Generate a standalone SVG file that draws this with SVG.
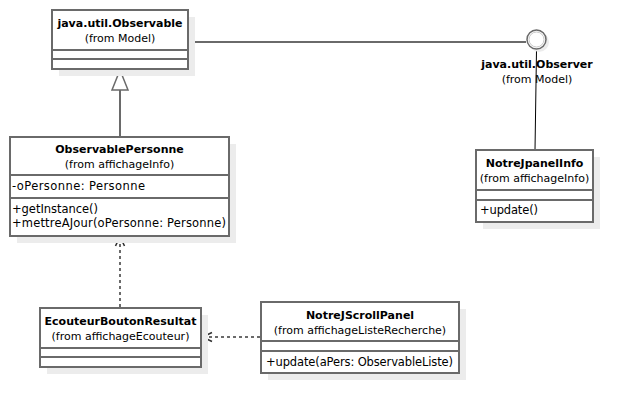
<svg xmlns="http://www.w3.org/2000/svg" width="638" height="413" viewBox="0 0 638 413">
<style>
  .shadow { fill: #ececec; stroke: none; }
  .box { fill: #ffffff; stroke: #6a6a6a; stroke-width: 2; }
  .div { stroke: #6a6a6a; stroke-width: 2; fill: none; }
  .name { font-family: "DejaVu Sans", sans-serif; font-size: 11px; font-weight: bold; fill: #000; text-anchor: middle; }
  .from { font-family: "DejaVu Sans", sans-serif; font-size: 11px; fill: #000; text-anchor: middle; }
  .member { font-family: "DejaVu Sans", sans-serif; font-size: 11.5px; fill: #000; }
  .line { stroke: #6a6a6a; stroke-width: 2; fill: none; }
  .head { stroke: #333333; stroke-width: 1.6; fill: none; stroke-linejoin: miter; }
  .dash { stroke: #6a6a6a; stroke-width: 2; fill: none; stroke-dasharray: 3 3; }
  .thin { stroke: #000; stroke-width: 1; fill: none; }
</style>
<rect width="638" height="413" fill="#ffffff"/>

<g id="connectors">
  <line class="line" x1="188" y1="42" x2="526" y2="42"/>
  <line class="thin" x1="536.5" y1="50" x2="535" y2="150"/>
  <line class="line" x1="120" y1="90" x2="120" y2="137"/>
  <polygon points="120,70 112,90 128,90" fill="#ffffff" stroke="#6a6a6a" stroke-width="1.5"/>
  <line class="dash" x1="120" y1="307" x2="120" y2="239"/>
  <path class="head" d="M115.5,246 L120,236.5 L124.5,246"/>
  <line class="dash" x1="260" y1="337" x2="205" y2="337"/>
  <path class="head" d="M212,332.5 L202.5,337 L212,341.5"/>
</g>

<g id="java.util.Observer">
  <circle cx="539" cy="42" r="10" fill="#ececec"/>
  <circle cx="536.5" cy="39.5" r="9.5" fill="#ffffff" stroke="#6a6a6a" stroke-width="1.5"/>
  <circle cx="536.5" cy="39.5" r="7.5" fill="none" stroke="#c8c8c8" stroke-width="1"/>
  <text class="name" x="537" y="68">java.util.Observer</text>
  <text class="from" x="537" y="83">(from Model)</text>
</g>

<g id="java.util.Observable">
  <rect class="shadow" x="59" y="17" width="136" height="59"/>
  <rect class="box" x="52" y="10" width="136" height="59"/>
  <line class="div" x1="52" y1="50" x2="188" y2="50"/>
  <line class="div" x1="52" y1="59" x2="188" y2="59"/>
  <text class="name" x="120" y="27">java.util.Observable</text>
  <text class="from" x="120" y="42">(from Model)</text>
</g>

<g id="ObservablePersonne">
  <rect class="shadow" x="17" y="144" width="219" height="99"/>
  <rect class="box" x="10" y="137" width="219" height="99"/>
  <line class="div" x1="10" y1="175" x2="229" y2="175"/>
  <line class="div" x1="10" y1="198" x2="229" y2="198"/>
  <text class="name" x="119.5" y="153">ObservablePersonne</text>
  <text class="from" x="119.5" y="168">(from affichageInfo)</text>
  <text class="member" x="12" y="190" textLength="133">-oPersonne: Personne</text>
  <text class="member" x="12" y="213" textLength="86">+getInstance()</text>
  <text class="member" x="12" y="227" textLength="214">+mettreAJour(oPersonne: Personne)</text>
</g>

<g id="NotreJpanelInfo">
  <rect class="shadow" x="483" y="157" width="117" height="72"/>
  <rect class="box" x="476" y="150" width="117" height="72"/>
  <line class="div" x1="476" y1="190" x2="593" y2="190"/>
  <line class="div" x1="476" y1="200" x2="593" y2="200"/>
  <text class="name" x="534.5" y="167">NotreJpanelInfo</text>
  <text class="from" x="534.5" y="182">(from affichageInfo)</text>
  <text class="member" x="480" y="214" textLength="58">+update()</text>
</g>

<g id="EcouteurBoutonResultat">
  <rect class="shadow" x="47" y="315" width="161" height="59"/>
  <rect class="box" x="40" y="308" width="161" height="59"/>
  <line class="div" x1="40" y1="348" x2="201" y2="348"/>
  <line class="div" x1="40" y1="357" x2="201" y2="357"/>
  <text class="name" x="120.5" y="324.5">EcouteurBoutonResultat</text>
  <text class="from" x="120.5" y="339.5">(from affichageEcouteur)</text>
</g>

<g id="NotreJScrollPanel">
  <rect class="shadow" x="268" y="309" width="198" height="71"/>
  <rect class="box" x="261" y="302" width="198" height="71"/>
  <line class="div" x1="261" y1="341" x2="459" y2="341"/>
  <line class="div" x1="261" y1="351" x2="459" y2="351"/>
  <text class="name" x="360" y="318.5">NotreJScrollPanel</text>
  <text class="from" x="360" y="333.5">(from affichageListeRecherche)</text>
  <text class="member" x="266" y="366" textLength="187">+update(aPers: ObservableListe)</text>
</g>
</svg>
